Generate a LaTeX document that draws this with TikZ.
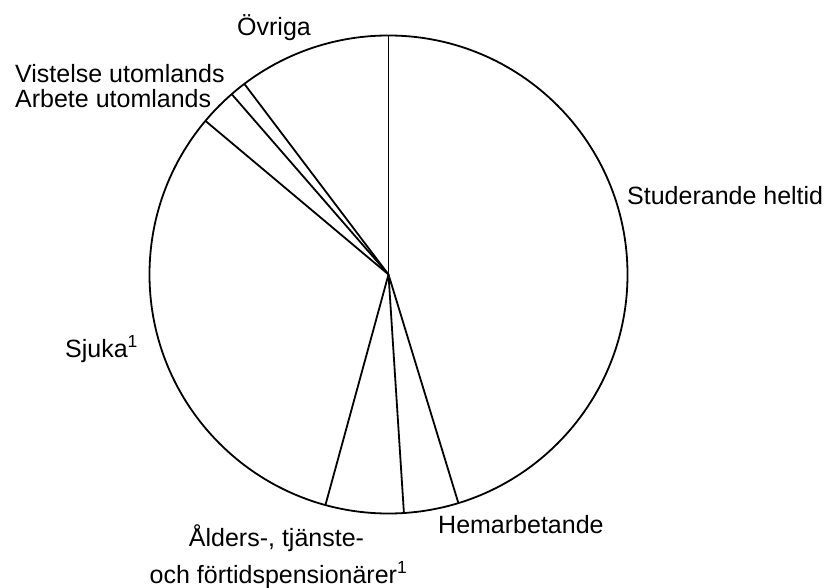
\documentclass[tikz,border=0pt]{standalone}
\usepackage{fontspec}
\setmainfont{Liberation Sans}
\usepackage{tikz}
\usetikzlibrary{calc}
\tikzset{
  label text/.style = {font=\fontsize{25}{30}\selectfont, inner sep=0pt},
  pie line/.style = {line width=1.8pt}
}

\begin{document}
\begin{tikzpicture}[x=1pt, y=1pt]

\useasboundingbox (0, 0) rectangle (832, 587);

\coordinate (c) at (388.5, 312.5);

% circle and slice borders
\draw [pie line] (c) circle (239pt);
\foreach \a in {90, 127.1, 131, 140, 254.7, 273.7, 287}
  \draw [pie line] (c) -- ($(c) + (\a:239pt)$);

% labels
\node [label text, anchor=base west] (ovriga) at (237, 551) {Övriga};
\node [label text, anchor=base west] (vistelse) at (15, 504) {Vistelse utomlands};
\node [label text, anchor=base west] (arbete) at (15, 479) {Arbete utomlands};
\node [label text, anchor=base west] (studerande) at (627, 382) {Studerande heltid};
\node [label text, anchor=base west] (sjuka) at (65, 230) {Sjuka\textsuperscript{1}};
\node [label text, anchor=base west] (hemarb) at (438, 54) {Hemarbetande};
\node [label text, anchor=base] (alders) at (276.5, 40.3) {Ålders-, tjänste-};
\node [label text, anchor=base] (fortid) at (278.5, 4) {och förtidspensionärer\textsuperscript{1}};

\end{tikzpicture}
\end{document}
